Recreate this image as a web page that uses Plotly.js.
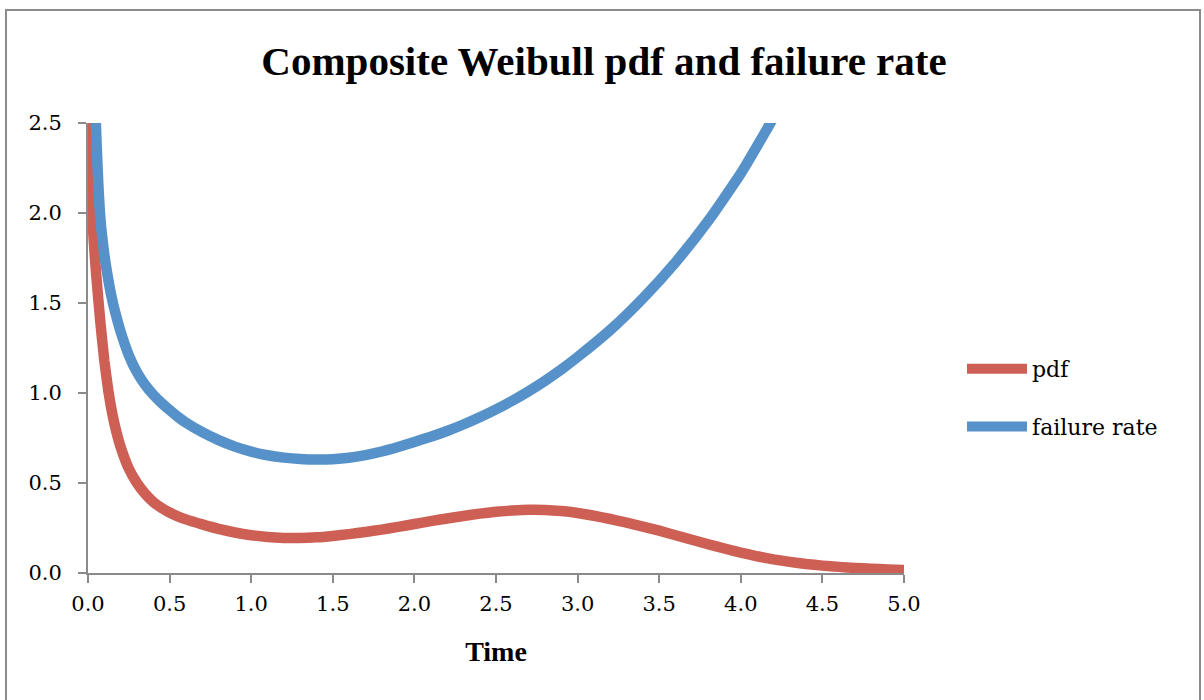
<!DOCTYPE html>
<html>
<head>
<meta charset="utf-8">
<script src="https://cdn.plot.ly/plotly-3.0.1.min.js"></script>
<style>
  html, body { margin: 0; padding: 0; background: #ffffff; }
  #chart { width: 1204px; height: 700px; }
</style>
</head>
<body>
<div id="chart"></div>
<script>
// Time values (x) and the two series
const timePdf = [0.0, 0.01, 0.025, 0.05, 0.075, 0.1, 0.125, 0.15, 0.175, 0.2, 0.25, 0.3, 0.35, 0.4, 0.45, 0.5, 0.55, 0.6, 0.7, 0.8, 0.9, 1.0, 1.1, 1.2, 1.3, 1.4, 1.5, 1.6, 1.7, 1.8, 1.9, 2.0, 2.1, 2.2, 2.3, 2.4, 2.5, 2.6, 2.7, 2.8, 2.9, 3.0, 3.1, 3.2, 3.3, 3.4, 3.5, 3.6, 3.7, 3.8, 3.9, 4.0, 4.1, 4.2, 4.3, 4.4, 4.5, 4.6, 4.7, 4.8, 4.9, 5.0];
const pdfValues = [3.2, 2.45, 2.0, 1.66, 1.4, 1.18, 1.01, 0.88, 0.78, 0.7, 0.58, 0.5, 0.44, 0.395, 0.362, 0.336, 0.315, 0.298, 0.27, 0.245, 0.225, 0.21, 0.2, 0.195, 0.194, 0.198, 0.206, 0.216, 0.228, 0.241, 0.256, 0.272, 0.288, 0.303, 0.317, 0.33, 0.34, 0.347, 0.351, 0.35, 0.344, 0.333, 0.318, 0.3, 0.28, 0.258, 0.235, 0.21, 0.185, 0.16, 0.136, 0.113, 0.093, 0.076, 0.062, 0.05, 0.041, 0.034, 0.028, 0.024, 0.02, 0.017];

const timeRate = [0.0, 0.025, 0.05, 0.075, 0.1, 0.125, 0.15, 0.175, 0.2, 0.25, 0.3, 0.35, 0.4, 0.45, 0.5, 0.55, 0.6, 0.7, 0.8, 0.9, 1.0, 1.1, 1.2, 1.3, 1.4, 1.5, 1.6, 1.7, 1.8, 1.9, 2.0, 2.1, 2.2, 2.3, 2.4, 2.5, 2.6, 2.7, 2.8, 2.9, 3.0, 3.2, 3.4, 3.6, 3.8, 4.0, 4.2, 4.4, 4.6, 4.8, 5.0];
const rateValues = [6.0, 3.3, 2.45, 1.98, 1.77, 1.625, 1.51, 1.42, 1.34, 1.21, 1.115, 1.045, 0.99, 0.945, 0.905, 0.868, 0.835, 0.782, 0.738, 0.702, 0.674, 0.654, 0.641, 0.633, 0.63, 0.632, 0.64, 0.655, 0.675, 0.7, 0.728, 0.757, 0.789, 0.825, 0.865, 0.909, 0.957, 1.01, 1.068, 1.131, 1.2, 1.35, 1.526, 1.726, 1.956, 2.22, 2.53, 2.88, 3.28, 3.75, 4.3];

const xTickVals = [0, 0.5, 1, 1.5, 2, 2.5, 3, 3.5, 4, 4.5, 5];
const xTickText = ["0.0", "0.5", "1.0", "1.5", "2.0", "2.5", "3.0", "3.5", "4.0", "4.5", "5.0"];
const yTickVals = [0, 0.5, 1, 1.5, 2, 2.5];
const yTickText = ["0.0", "0.5", "1.0", "1.5", "2.0", "2.5"];

const seriesNames = ["pdf", "failure rate"];
const seriesColors = ["#CD5F55", "#5692C9"];

const serifWide = "'DejaVu Serif', serif";
const serifBold = "'Liberation Serif', 'Times New Roman', serif";
const axisGray = "#8a8a8a";

const traces = [
  {
    x: timePdf, y: pdfValues, name: seriesNames[0], type: "scatter", mode: "lines",
    legendgroup: "a",
    line: { color: seriesColors[0], width: 10.5, shape: "spline", smoothing: 0.5 },
    hoverinfo: "skip"
  },
  {
    x: timeRate, y: rateValues, name: seriesNames[1], type: "scatter", mode: "lines",
    legendgroup: "b",
    line: { color: seriesColors[1], width: 10.5, shape: "spline", smoothing: 0.5 },
    hoverinfo: "skip"
  }
];

const L = 88, R = 300, T = 123, B = 127;
const W = 1204 - L - R, H = 700 - T - B;
function px(xp) { return (xp - L) / W; }
function py(yp) { return (700 - B - yp) / H; }

const layout = {
  width: 1204, height: 700,
  paper_bgcolor: "#ffffff", plot_bgcolor: "#ffffff",
  margin: { l: L, r: R, t: T, b: B, pad: 0 },
  title: {
    text: "<b>Composite Weibull pdf and failure rate</b>",
    font: { family: serifBold, size: 41, color: "#000000" },
    x: 604 / 1204, xref: "container", xanchor: "center",
    y: 1 - 61 / 700, yref: "container", yanchor: "middle"
  },
  showlegend: true,
  legend: {
    x: px(962), xanchor: "left",
    y: py(398), yanchor: "middle",
    font: { family: serifWide, size: 22, color: "#000000" },
    traceorder: "grouped",
    tracegroupgap: 26,
    itemwidth: 60,
    bgcolor: "rgba(0,0,0,0)"
  },
  xaxis: {
    range: [0, 5],
    tickvals: xTickVals, ticktext: xTickText,
    showgrid: false, zeroline: false,
    showline: true, linecolor: axisGray, linewidth: 2,
    ticks: "outside", ticklen: 8, tickwidth: 2, tickcolor: axisGray,
    ticklabelstandoff: 3,
    tickfont: { family: serifWide, size: 21, color: "#000000" },
    title: { text: "<b>Time</b>", font: { family: serifBold, size: 28, color: "#000000" }, standoff: 26 },
    fixedrange: true
  },
  yaxis: {
    range: [0, 2.5],
    tickvals: yTickVals, ticktext: yTickText,
    showgrid: false, zeroline: false,
    showline: true, linecolor: axisGray, linewidth: 2,
    ticks: "outside", ticklen: 8, tickwidth: 2, tickcolor: axisGray,
    ticklabelstandoff: 12,
    tickfont: { family: serifWide, size: 21, color: "#000000" },
    fixedrange: true
  },
  shapes: [
    {
      type: "rect", xref: "paper", yref: "paper", layer: "below",
      x0: px(6), x1: px(1200), y0: py(720), y1: py(10),
      line: { color: "#8c8c8c", width: 2 }, fillcolor: "rgba(0,0,0,0)"
    }
  ]
};

Plotly.newPlot("chart", traces, layout, { staticPlot: true, displayModeBar: false });
</script>
</body>
</html>
